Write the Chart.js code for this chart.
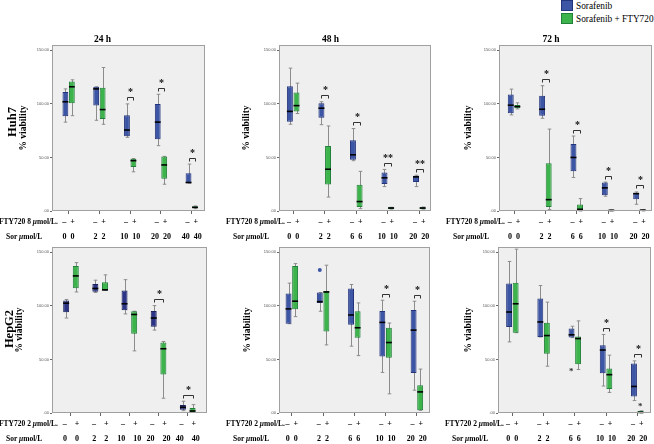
<!DOCTYPE html>
<html>
<head>
<meta charset="utf-8">
<script src="https://cdn.jsdelivr.net/npm/chart.js@4.4.1/dist/chart.umd.min.js"></script>
<style>
  html, body { margin: 0; padding: 0; background: #fff; }
  #page { position: relative; width: 654px; height: 444px; overflow: hidden; font-family: "Liberation Serif", serif; color: #000; }
  canvas { position: absolute; }
  .lbl { position: absolute; white-space: nowrap; font-weight: bold; font-size: 7.5px; line-height: 8px; }
  .row { position: absolute; white-space: nowrap; font-weight: bold; font-size: 12.5px; line-height: 12px; transform: translate(-50%, -50%) rotate(-90deg); }
  .sw { position: absolute; width: 12px; height: 11px; box-sizing: border-box; }
  .leg { position: absolute; font-size: 9.3px; line-height: 10px; white-space: nowrap; }
</style>
</head>
<body>
<div id="page"></div>
<script>
// ---------- data ----------
const groups = [0, 1, 2, 3, 4];
const timeTitles = ["24 h", "48 h", "72 h"];
const cellLines = ["Huh7", "HepG2"];
const seriesNames = ["Sorafenib", "Sorafenib + FTY720"];
const ftySigns = ["–", "+"];
const ftyRows = ["FTY720 8 ", "FTY720 2 "];
const sorDoses24 = ["0", "2", "10", "20", "40"];
const sorDoses = ["0", "2", "6", "10", "20"];
const yTicks = [0, 50, 100, 150];

// [min, q1, median, q3, max] for every group
const huh7_24h_sor = [[83, 88.4, 102, 111, 114], [84.7, 98.4, 114, 116, 116], [68.8, 69.7, 75.6, 89.4, 100], [61, 67, 83, 100, 109], [26, 26, 26.6, 35.3, 43.8]];
const huh7_24h_fty = [[89, 100.6, 116, 121, 122.5], [81, 86, 94.7, 115, 134], [36.6, 41, 47, 48.8, 49], [25, 30, 43, 51, 51], [2.2, 2.5, 3.4, 4.5, 4.7]];
const huh7_48h_sor = [[81, 83.4, 93, 116.6, 133.4], [80.6, 87, 96, 100.6, 102], [47, 47.8, 52.5, 66, 77], [22.8, 25.3, 31, 36, 38.8], [22.8, 27, 31.9, 32.8, 33.4]];
const huh7_48h_fty = [[91, 93, 98.4, 110.6, 119.4], [13, 24.7, 39, 60.6, 79.4], [2.2, 3.8, 8.8, 24.4, 37], [1.8, 1.9, 2.8, 3.4, 3.5], [1.8, 1.9, 2.8, 3.4, 3.7]];
const huh7_72h_sor = [[89.7, 91.3, 98.8, 108.8, 113.8], [86.6, 89, 95, 107.5, 117], [31.3, 37.2, 50, 62.5, 70], [13.8, 14.7, 21.6, 26.6, 27], [6.3, 11, 16.2, 16.9, 17.8]];
const huh7_72h_fty = [[95.3, 96, 97.5, 99, 101], [1.3, 3.8, 10.6, 44.7, 76.5], [0, 0, 1.6, 6, 11.6], [0, 0.3, 0.6, 1.2, 1.2], [0, 0.3, 0.8, 1.2, 1.2]];
const hepg2_24h_sor = [[88.7, 94, 102.5, 105, 106], [112.5, 113.2, 116.3, 120.4, 124], [92.5, 96, 102, 114.4, 124.5], [77.4, 80.6, 88.7, 95.3, 100.3], [2.2, 3.1, 5.3, 7.5, 11]];
const hepg2_24h_fty = [[113, 116.6, 128, 137.3, 140.4], [114.4, 114.4, 115, 122, 129], [58, 74, 92, 95, 95], [13.8, 36, 60, 65.8, 66.8], [0.9, 0.9, 1.9, 4.7, 7.8]];
const hepg2_48h_sor = [[83.4, 83.4, 97.2, 111.6, 121.3], [95, 102.8, 104, 112.5, 112.5], [62.4, 82.4, 91.5, 116.3, 120], [37.9, 52.7, 84.6, 95.3, 105.3], [21.3, 37.3, 77.4, 96.2, 104.4]];
const hepg2_48h_fty = [[90, 96.9, 104.4, 137.3, 139.5], [63.6, 76, 113, 114, 138], [53.6, 70.2, 79.6, 95, 102.8], [17.9, 51.7, 65.8, 79.6, 84], [2.5, 2.5, 19.7, 26, 41]];
const hepg2_72h_sor = [[66.4, 80.2, 94.3, 121, 141.5], [71, 71, 85, 107, 119], [70.4, 70.4, 73, 79, 81], [25.2, 37.1, 58.8, 63.2, 73.3], [11.6, 15.4, 24.8, 46.2, 48.7]];
const hepg2_72h_fty = [[75, 75, 102, 121.7, 153], [43.7, 55.3, 72.3, 84.3, 103.5], [40.6, 45.6, 69.5, 71.4, 86], [19.2, 22.3, 35.8, 41.5, 54], [0, 0, 0.6, 1.9, 2]];

// outliers: [group, value, marker]
const hepg2_48h_sorOut = [[1, 133.5, "o"]];
const hepg2_72h_sorOut = [[2, 41.5, "*"]];
const hepg2_72h_ftyOut = [[4, 8.5, "*"]];

// significance marks per group
const huh7_24h_sig = ["", "", "*", "*", "*"];
const huh7_48h_sig = ["", "*", "*", "**", "**"];
const huh7_72h_sig = ["", "*", "*", "*", "*"];
const hepg2_24h_sig = ["", "", "", "*", "*"];
const hepg2_48h_sig = ["", "", "", "*", "*"];
const hepg2_72h_sig = ["", "", "", "*", "*"];

// ---------- styles ----------
const blue = "#3d55a5", blueLine = "#24347a";
const navy = "#2b3487", navyLine = "#1a205c";
const green = "#3cb44b", greenLine = "#22803a";
const serif = "Liberation Serif";
Chart.defaults.font.family = serif;
Chart.defaults.color = "#000";

const page = document.getElementById("page");

const panels = [
  { sor: huh7_24h_sor, fty: huh7_24h_fty, sig: huh7_24h_sig, doses: sorDoses24, title: timeTitles[0], row: 0,
    left: 0, top: 25, width: 210, height: 220, yW: 52, padR: 5, padTop: 0, xH: 34, yTitle: 18.5, xMin: -0.54, xMax: 4.43, cat: 0.42, bar: 0.9, gap: "  ", fill: blue, line: blueLine },
  { sor: huh7_48h_sor, fty: huh7_48h_fty, sig: huh7_48h_sig, doses: sorDoses, title: timeTitles[1], row: 0,
    left: 230, top: 25, width: 206, height: 220, yW: 49, padR: 5, padTop: 0, xH: 34, yTitle: 12, xMin: -0.45, xMax: 4.37, cat: 0.42, bar: 0.9, gap: "  ", fill: blue, line: blueLine },
  { sor: huh7_72h_sor, fty: huh7_72h_fty, sig: huh7_72h_sig, doses: sorDoses, title: timeTitles[2], row: 0,
    left: 450, top: 25, width: 204, height: 220, yW: 49, padR: 2, padTop: 0, xH: 34, yTitle: 13.5, xMin: -0.48, xMax: 4.4, cat: 0.42, bar: 0.9, gap: "  ", fill: blue, line: blueLine },
  { sor: hepg2_24h_sor, fty: hepg2_24h_fty, sig: hepg2_24h_sig, doses: sorDoses24, title: null, row: 1,
    left: 0, top: 230, width: 212, height: 214, yW: 52, padR: 5, padTop: 17, xH: 31, yTitle: 14.5, xMin: -0.65, xMax: 4.66, cat: 0.66, bar: 0.62, gap: "    ", fill: navy, line: navyLine },
  { sor: hepg2_48h_sor, fty: hepg2_48h_fty, sig: hepg2_48h_sig, doses: sorDoses, title: null, row: 1, sorOut: hepg2_48h_sorOut,
    left: 230, top: 230, width: 206, height: 214, yW: 49, padR: 6, padTop: 17, xH: 31, yTitle: 12.5, xMin: -0.41, xMax: 4.42, cat: 0.42, bar: 0.9, gap: "  ", fill: blue, line: blueLine },
  { sor: hepg2_72h_sor, fty: hepg2_72h_fty, sig: hepg2_72h_sig, doses: sorDoses, title: null, row: 1, sorOut: hepg2_72h_sorOut, ftyOut: hepg2_72h_ftyOut,
    left: 450, top: 230, width: 204, height: 214, yW: 48, padR: 3, padTop: 17, xH: 31, yTitle: 14, xMin: -0.46, xMax: 4.44, cat: 0.42, bar: 0.9, gap: "  ", fill: blue, line: blueLine }
];

// text drawn from a whole-pixel left edge so small glyphs stay sharp
function crispText(ctx, text, cx, by) {
  const w = ctx.measureText(text).width;
  ctx.textAlign = "left";
  ctx.textBaseline = "alphabetic";
  ctx.fillText(text, Math.round(cx - w / 2), Math.round(by));
}

// whiskers, medians, outliers, brackets and frame
const boxExtras = {
  id: "boxExtras",
  beforeDraw(chart) {
    const { ctx, chartArea: a } = chart;
    ctx.save();
    ctx.fillStyle = "#efefef";
    ctx.fillRect(a.left, a.top, a.right - a.left, a.bottom - a.top);
    ctx.restore();
  },
  beforeDatasetsDraw(chart) {
    const { ctx } = chart;
    const y = chart.scales.y;
    ctx.save();
    ctx.strokeStyle = "#8c8c8c";
    ctx.lineWidth = 1;
    chart.data.datasets.forEach((ds, di) => {
      chart.getDatasetMeta(di).data.forEach((bar, i) => {
        const s = ds.stats[i];
        const x = Math.round(bar.x) + 0.5;
        const cap = bar.width * 0.3;
        const y0 = y.getPixelForValue(s[0]), y1 = y.getPixelForValue(s[4]);
        ctx.beginPath();
        ctx.moveTo(x, y0); ctx.lineTo(x, y1);
        ctx.moveTo(x - cap, y0); ctx.lineTo(x + cap, y0);
        ctx.moveTo(x - cap, y1); ctx.lineTo(x + cap, y1);
        ctx.stroke();
      });
    });
    ctx.restore();
  },
  afterDatasetsDraw(chart, args, opts) {
    const { ctx, chartArea: a } = chart;
    const y = chart.scales.y;
    ctx.save();
    // medians
    ctx.strokeStyle = "#000";
    ctx.lineWidth = 1.6;
    chart.data.datasets.forEach((ds, di) => {
      chart.getDatasetMeta(di).data.forEach((bar, i) => {
        const ym = y.getPixelForValue(ds.stats[i][2]);
        ctx.beginPath();
        ctx.moveTo(bar.x - bar.width / 2, ym);
        ctx.lineTo(bar.x + bar.width / 2, ym);
        ctx.stroke();
      });
      // outliers
      (ds.outliers || []).forEach(o => {
        const bar = chart.getDatasetMeta(di).data[o[0]];
        const py = y.getPixelForValue(o[1]);
        if (o[2] === "o") {
          ctx.beginPath();
          ctx.arc(bar.x, py, 2, 0, Math.PI * 2);
          ctx.fillStyle = ds.backgroundColor;
          ctx.fill();
        } else {
          ctx.fillStyle = "#333";
          ctx.font = "bold 9px " + serif;
          crispText(ctx, "*", bar.x, py + 5);
        }
      });
    });
    // significance brackets
    const m0 = chart.getDatasetMeta(0).data, m1 = chart.getDatasetMeta(1).data;
    const d0 = chart.data.datasets[0].stats, d1 = chart.data.datasets[1].stats;
    ctx.strokeStyle = "#333";
    ctx.lineWidth = 1;
    ctx.fillStyle = "#111";
    ctx.font = "bold 10px " + serif;
    opts.sig.forEach((mark, i) => {
      if (!mark) return;
      const top = Math.min(y.getPixelForValue(d0[i][4]), y.getPixelForValue(d1[i][4]));
      const legB = Math.round(top - 3.5) + 0.5, lineY = legB - 3;
      const xa = Math.round(m0[i].x) + 0.5, xb = Math.round(m1[i].x) + 0.5;
      ctx.beginPath();
      ctx.moveTo(xa, legB); ctx.lineTo(xa, lineY); ctx.lineTo(xb, lineY); ctx.lineTo(xb, legB);
      ctx.stroke();
      crispText(ctx, mark, (xa + xb) / 2, lineY - 2.5);
    });
    // frame
    ctx.strokeStyle = "#a0a0a0";
    ctx.strokeRect(Math.round(a.left) + 0.5, Math.round(a.top) + 0.5, Math.round(a.right - a.left) - 1, Math.round(a.bottom - a.top) - 1);
    ctx.restore();
  }
};

function buildPanel(p) {
  const canvas = document.createElement("canvas");
  canvas.width = p.width;
  canvas.height = p.height;
  canvas.style.left = p.left + "px";
  canvas.style.top = p.top + "px";
  page.appendChild(canvas);

  const toBox = s => s.map((v, i) => ({ x: groups[i], y: [v[1], v[3]] }));
  const common = { borderWidth: 1, borderSkipped: false, categoryPercentage: p.cat, barPercentage: p.bar };

  new Chart(canvas, {
    type: "bar",
    data: {
      datasets: [
        Object.assign({ label: seriesNames[0], data: toBox(p.sor), stats: p.sor, outliers: p.sorOut,
          backgroundColor: p.fill, borderColor: p.line }, common),
        Object.assign({ label: seriesNames[1], data: toBox(p.fty), stats: p.fty, outliers: p.ftyOut,
          backgroundColor: green, borderColor: greenLine }, common)
      ]
    },
    options: {
      responsive: false,
      animation: false,
      events: [],
      layout: { padding: { left: 0, right: p.padR, top: p.padTop, bottom: 0 } },
      plugins: {
        legend: { display: false },
        tooltip: { enabled: false },
        title: {
          display: !!p.title,
          text: p.title || "",
          color: "#000",
          font: { family: serif, size: 9.5, weight: "bold", lineHeight: 1 },
          padding: { top: 10, bottom: 0.5 }
        },
        boxExtras: { sig: p.sig }
      },
      scales: {
        x: {
          type: "linear",
          min: p.xMin,
          max: p.xMax,
          offset: false,
          afterBuildTicks: s => { s.ticks = groups.map(v => ({ value: v })); },
          afterFit: s => { s.height = p.xH; },
          grid: { display: true, offset: false, drawOnChartArea: false, drawTicks: true, tickLength: 3, color: "#666" },
          border: { display: false },
          ticks: {
            autoSkip: false, maxRotation: 0, minRotation: 0, padding: 0, color: "#000",
            font: { family: serif, size: 8, weight: "bold", lineHeight: 15 / 8 },
            callback: (v, i) => [ftySigns.join(p.gap), p.doses[i] + p.gap + p.doses[i]]
          }
        },
        y: {
          min: 0,
          max: 155,
          afterBuildTicks: s => { s.ticks = yTicks.map(v => ({ value: v })); },
          afterFit: s => { s.width = p.yW; },
          grid: { drawOnChartArea: false, tickLength: 2, color: "#666" },
          border: { display: false },
          ticks: {
            padding: 1, color: "#555",
            font: { family: "Liberation Sans", size: 4 },
            callback: v => v === 0 ? ".00" : v.toFixed(2)
          },
          title: {
            display: true, text: "% viability", color: "#000",
            font: { family: serif, size: 9.5, weight: "bold", lineHeight: 1 },
            padding: { top: p.yTitle, bottom: 0 }
          }
        }
      }
    },
    plugins: [boxExtras]
  });

  // row header labels left of the tick labels
  const plotLeft = p.left + p.yW;
  const plotBottom = p.top + p.height - p.xH;
  const fty = document.createElement("div");
  fty.className = "lbl";
  fty.innerHTML = ftyRows[p.row] + "<i>μ</i>mol/L.";
  fty.style.left = (plotLeft - 53) + "px";
  fty.style.top = (plotBottom + 11 - 4) + "px";
  page.appendChild(fty);
  const sor = document.createElement("div");
  sor.className = "lbl";
  sor.innerHTML = "Sor <i>μ</i>mol/L";
  sor.style.left = (plotLeft - 46) + "px";
  sor.style.top = (plotBottom + 26 - 4) + "px";
  page.appendChild(sor);
}

panels.forEach(buildPanel);

// cell line labels
[[12, 122], [9, 329]].forEach((pos, i) => {
  const d = document.createElement("div");
  d.className = "row";
  d.textContent = cellLines[i];
  d.style.left = pos[0] + "px";
  d.style.top = pos[1] + "px";
  page.appendChild(d);
});

// legend
[[blue, blueLine], [green, greenLine]].forEach((c, i) => {
  const sw = document.createElement("div");
  sw.className = "sw";
  sw.style.left = "561px";
  sw.style.top = (i * 13) + "px";
  sw.style.background = c[0];
  sw.style.border = "1px solid " + c[1];
  page.appendChild(sw);
  const t = document.createElement("div");
  t.className = "leg";
  t.textContent = seriesNames[i];
  t.style.left = "576px";
  t.style.top = (i * 13 + 1) + "px";
  page.appendChild(t);
});
</script>
</body>
</html>
